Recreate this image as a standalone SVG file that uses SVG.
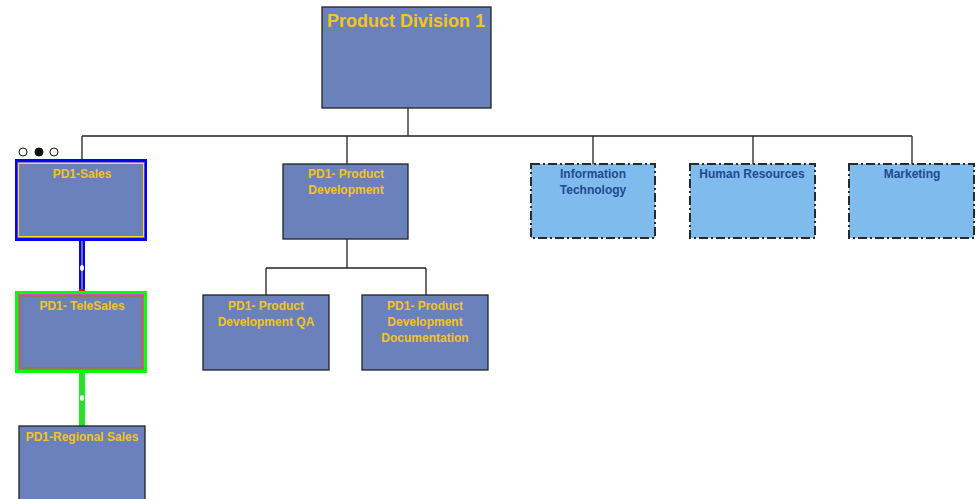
<svg xmlns="http://www.w3.org/2000/svg" width="980" height="499" viewBox="0 0 980 499">
<style>
.box{fill:#6a81bb;stroke:#222;stroke-width:1.3}
.ext{fill:#80bbee;stroke:#2a2a2a;stroke-width:2;stroke-dasharray:9 3 2 3}
.t{font-family:"Liberation Sans",Arial,sans-serif;font-weight:bold;font-size:12px;fill:#f5c518;text-anchor:middle}
.tb{font-family:"Liberation Sans",Arial,sans-serif;font-weight:bold;font-size:12px;fill:#1f4a90;text-anchor:middle}
.ln{fill:none;stroke:#222;stroke-width:1.3}
</style>
<rect width="980" height="499" fill="#fff"/>
<g id="connectors">
<path class="ln" d="M408 108V136M82 136H912M82 136V160M347 136V164M593 136V164M753 136V164M912 136V164"/>
<path class="ln" d="M347 239V268M266 268H426M266 268V295M426 268V295"/>
<g id="c-sales-tele">
<rect x="79" y="240" width="6" height="52" fill="#0000ff"/>
<line x1="82" y1="240" x2="82" y2="292" stroke="#f5e000" stroke-width="1"/>
<rect x="79" y="289" width="6" height="3" fill="#ff0000"/>
<ellipse cx="82" cy="268" rx="2" ry="3" fill="#fff"/>
</g>
<g id="c-tele-regional">
<rect x="79" y="373" width="6" height="53" fill="#00ff00"/>
<line x1="82" y1="373" x2="82" y2="426" stroke="#cc66cc" stroke-width="1"/>
<ellipse cx="82" cy="398" rx="2" ry="3" fill="#fff"/>
</g>
</g>
<g id="selection-handles">
<circle cx="23" cy="152" r="4" fill="#fff" stroke="#111" stroke-width="1"/>
<circle cx="39" cy="152" r="4" fill="#111" stroke="#111" stroke-width="1"/>
<circle cx="54" cy="152" r="4" fill="#fff" stroke="#111" stroke-width="1"/>
</g>
<g id="n-pd1">
<rect class="box" x="322" y="7" width="169" height="101"/>
<text class="t" x="406" y="27" style="font-size:18px">Product Division 1</text>
</g>
<g id="n-sales">
<rect x="16.5" y="160.5" width="129" height="79" fill="#0000ff" stroke="#0000ff" stroke-width="3"/>
<rect x="18.5" y="163" width="125" height="74" fill="#6a81bb" stroke="#a07fb4" stroke-width="2"/>
<rect x="18.5" y="163.5" width="125" height="73" fill="none" stroke="#f5e000" stroke-width="1"/>
<text class="t" x="82" y="178">PD1-Sales</text>
</g>
<g id="n-telesales">
<rect x="16.5" y="292.5" width="129" height="79" fill="#00ff00" stroke="#00ff00" stroke-width="3"/>
<rect x="19.5" y="295.5" width="123" height="73" fill="#6a81bb" stroke="#8f7a55" stroke-width="3"/>
<rect x="18.5" y="294.5" width="125" height="75" fill="none" stroke="#d050c0" stroke-width="1"/>
<text class="t" x="82" y="310">PD1- TeleSales</text>
</g>
<g id="n-regional">
<rect class="box" x="19" y="426" width="126" height="80"/>
<text class="t" x="82" y="441">PD1-Regional Sales</text>
</g>
<g id="n-pdev">
<rect class="box" x="283" y="164" width="125" height="75"/>
<text class="t" x="346" y="178">PD1- Product</text>
<text class="t" x="346" y="194">Development</text>
</g>
<g id="n-pdqa">
<rect class="box" x="203" y="295" width="126" height="75"/>
<text class="t" x="266" y="310">PD1- Product</text>
<text class="t" x="266" y="326">Development QA</text>
</g>
<g id="n-pddoc">
<rect class="box" x="362" y="295" width="126" height="75"/>
<text class="t" x="425" y="310">PD1- Product</text>
<text class="t" x="425" y="326">Development</text>
<text class="t" x="425" y="342">Documentation</text>
</g>
<g id="n-it">
<rect class="ext" x="531" y="164" width="124" height="74"/>
<text class="tb" x="593" y="178">Information</text>
<text class="tb" x="593" y="194">Technology</text>
</g>
<g id="n-hr">
<rect class="ext" x="690" y="164" width="125" height="74"/>
<text class="tb" x="752" y="178">Human Resources</text>
</g>
<g id="n-mkt">
<rect class="ext" x="849" y="164" width="125" height="74"/>
<text class="tb" x="912" y="178">Marketing</text>
</g>
</svg>
